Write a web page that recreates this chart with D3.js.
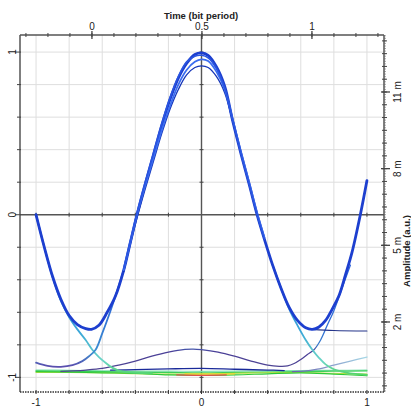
<html>
<head>
<script src="https://d3js.org/d3.v7.min.js"></script>
<style>
  body { margin: 0; background: #fff; }
  text { font-family: "Liberation Sans", Arial, sans-serif; fill: #222; }
  .title { font-weight: bold; font-size: 9.5px; }
  .tick-label { font-size: 10px; }
</style>
</head>
<body>
<div id="chart"></div>
<script>
// ---- data ----
// main bundle, x = normalised position, y = amplitude
var mainX = [-1, -0.95, -0.9, -0.85, -0.8, -0.75, -0.7, -0.665, -0.62, -0.57, -0.52, -0.47, -0.43, -0.39,
             -0.34, -0.29, -0.24, -0.19, -0.14, -0.09, -0.04, 0, 0.04, 0.09, 0.14, 0.19, 0.24, 0.29, 0.336,
             0.38, 0.43, 0.48, 0.53, 0.58, 0.63, 0.67, 0.71, 0.75, 0.79, 0.83, 0.87, 0.91, 0.96, 1.0];
var mainY = [0, -0.2, -0.38, -0.52, -0.62, -0.675, -0.7, -0.705, -0.68, -0.6, -0.5, -0.34, -0.17, 0,
             0.19, 0.37, 0.55, 0.71, 0.84, 0.93, 0.985, 0.995, 0.98, 0.91, 0.79, 0.57, 0.37, 0.18, 0,
             -0.15, -0.31, -0.45, -0.57, -0.65, -0.695, -0.705, -0.69, -0.65, -0.58, -0.5, -0.37, -0.23, 0, 0.21];

// extra traces of the bundle near the peak
var peakX  = [-0.47, -0.43, -0.39, -0.34, -0.29, -0.24, -0.19, -0.14, -0.09, -0.04, 0, 0.04, 0.09, 0.14, 0.19, 0.24, 0.29, 0.336, 0.38];
var peakY2 = [-0.34, -0.17, 0.0, 0.18, 0.35, 0.52, 0.67, 0.8, 0.89, 0.94, 0.955, 0.945, 0.88, 0.77, 0.58, 0.38, 0.19, 0.01, -0.14];
var peakY3 = [-0.35, -0.18, -0.02, 0.16, 0.33, 0.5, 0.65, 0.77, 0.86, 0.905, 0.915, 0.905, 0.85, 0.75, 0.57, 0.37, 0.18, 0.0, -0.15];
var peakY4 = [-0.33, -0.16, 0.01, 0.2, 0.38, 0.56, 0.72, 0.85, 0.94, 0.975, 0.98, 0.965, 0.9, 0.78, 0.58, 0.37, 0.18, 0.0, -0.15];

// falling edges that keep going to the bottom level
var fallLX = [-1, -0.95, -0.9, -0.85, -0.8, -0.75, -0.7, -0.66, -0.62, -0.58, -0.54, -0.5, -0.45, -0.4, -0.3];
var fallLY = [0, -0.2, -0.385, -0.53, -0.63, -0.705, -0.77, -0.83, -0.875, -0.91, -0.94, -0.958, -0.968, -0.972, -0.975];
var fallRX = [0.43, 0.48, 0.53, 0.58, 0.63, 0.67, 0.71, 0.75, 0.8, 0.85, 0.9, 0.95, 1.0];
var fallRY = [-0.31, -0.45, -0.58, -0.68, -0.77, -0.83, -0.88, -0.92, -0.95, -0.965, -0.975, -0.98, -0.985];

// rising edges coming up from the bottom level
var riseLX = [-1, -0.93, -0.85, -0.78, -0.72, -0.68, -0.64, -0.6, -0.56, -0.52, -0.47];
var riseLY = [-0.91, -0.93, -0.935, -0.925, -0.9, -0.87, -0.83, -0.73, -0.62, -0.5, -0.34];
var bumpX  = [-0.85, -0.78, -0.7, -0.6, -0.5, -0.4, -0.3, -0.2, -0.1, -0.05, 0, 0.1, 0.2, 0.3, 0.4, 0.47, 0.52,
              0.56, 0.6, 0.64, 0.68, 0.72, 0.76, 0.8, 0.85, 0.9];
var bumpY  = [-0.963, -0.96, -0.955, -0.945, -0.925, -0.9, -0.87, -0.845, -0.828, -0.826, -0.83, -0.845, -0.87, -0.9, -0.925, -0.932, -0.93,
              -0.915, -0.89, -0.86, -0.83, -0.77, -0.68, -0.59, -0.45, -0.31];

// flat trace after the right minimum and the faint rising one
var flatX = [0.67, 0.8, 1.0];
var flatY = [-0.705, -0.712, -0.715];
var lilacX = [0.55, 0.62, 0.7, 0.8, 0.9, 1.0];
var lilacY = [-0.965, -0.962, -0.95, -0.925, -0.9, -0.875];

// bottom level traces
var lowX  = [-1, -0.8, -0.6, -0.4, -0.2, 0, 0.2, 0.4, 0.6, 0.8, 1];
var lowY1 = [-0.96, -0.962, -0.965, -0.968, -0.97, -0.972, -0.97, -0.968, -0.965, -0.962, -0.96];
var lowY2 = [-0.955, -0.957, -0.96, -0.962, -0.962, -0.963, -0.962, -0.96, -0.958, -0.957, -0.955];
var lowY3 = [-0.97, -0.97, -0.972, -0.978, -0.98, -0.978, -0.975, -0.972, -0.97, -0.975, -0.98];
var lowY4 = [-0.965, -0.968, -0.972, -0.975, -0.985, -0.988, -0.985, -0.978, -0.972, -0.98, -0.99];
var navyX = [-0.55, -0.4, -0.2, 0, 0.2, 0.4, 0.5];
var navyY = [-0.955, -0.953, -0.948, -0.945, -0.95, -0.955, -0.958];
var redX = [-0.15, 0, 0.15];
var redY = [-0.985, -0.988, -0.985];
var yellowX = [-0.1, 0.05, 0.2];
var yellowY = [-0.978, -0.98, -0.978];

// tick values
var bottomTicks = [-1, 0, 1];
var leftTicks = [-1, 0, 1];
var gridSteps = [-1, -0.8, -0.6, -0.4, -0.2, 0.2, 0.4, 0.6, 0.8, 1];
var timeTicks = [0, 0.5, 1];
var ampTicks = [2, 5, 8, 11];

// ---- layout ----
var W = 411, H = 408;
var L = 20, R = 384, T = 35, B = 392;

var x = d3.scaleLinear().domain([-1.097, 1.097]).range([L, 383]);
var y = d3.scaleLinear().domain([1.105, -1.09]).range([T, B]);
var t = d3.scaleLinear().domain([-0.327, 1.323]).range([L, 383]);
var amp = d3.scaleLinear().domain([-0.74, 13.23]).range([B, T]);

var svg = d3.select("#chart").append("svg")
    .attr("width", W)
    .attr("height", H);

var defs = svg.append("defs");
function vGrad(id, stops) {
    var g = defs.append("linearGradient")
        .attr("id", id)
        .attr("gradientUnits", "userSpaceOnUse")
        .attr("x1", 0).attr("x2", 0)
        .attr("y1", y(0)).attr("y2", y(-1));
    stops.forEach(function (s) {
        g.append("stop").attr("offset", s[0]).attr("stop-color", s[1]);
    });
}
vGrad("fallGrad", [[0, "#2a60d6"], [0.72, "#3aa6d8"], [0.9, "#6ad6c4"], [1, "#4ed45a"]]);
vGrad("riseGrad", [[0, "#2a5cdc"], [0.6, "#2f6fd6"], [0.85, "#3c8ed0"], [0.93, "#5a4fae"], [1, "#5a4fae"]]);
vGrad("bumpGrad", [[0, "#2a5cdc"], [0.7, "#2f6fd6"], [0.8, "#3a7ccc"], [0.84, "#4a3f98"], [1, "#50468f"]]);
var lg = defs.append("linearGradient").attr("id", "lilacGrad")
    .attr("gradientUnits", "userSpaceOnUse")
    .attr("x1", x(0.55)).attr("x2", x(1)).attr("y1", 0).attr("y2", 0);
lg.append("stop").attr("offset", 0).attr("stop-color", "#6a60b0");
lg.append("stop").attr("offset", 1).attr("stop-color", "#a6d8e6");

// grid
svg.append("g").selectAll("line").data(gridSteps).enter().append("line")
    .attr("x1", function (d) { return x(d); }).attr("x2", function (d) { return x(d); })
    .attr("y1", T).attr("y2", B)
    .attr("stroke", "#dedede");
svg.append("g").selectAll("line").data(gridSteps).enter().append("line")
    .attr("y1", function (d) { return y(d); }).attr("y2", function (d) { return y(d); })
    .attr("x1", L).attr("x2", R)
    .attr("stroke", "#dedede");

// centre axes with small ticks
svg.append("line").attr("x1", x(0)).attr("x2", x(0)).attr("y1", T).attr("y2", B)
    .attr("stroke", "#555").attr("stroke-width", 1.4);
svg.append("line").attr("x1", L).attr("x2", R).attr("y1", y(0)).attr("y2", y(0))
    .attr("stroke", "#555").attr("stroke-width", 1.4);
svg.append("g").selectAll("line").data(gridSteps).enter().append("line")
    .attr("x1", function (d) { return x(d); }).attr("x2", function (d) { return x(d); })
    .attr("y1", y(0) - 2).attr("y2", y(0) + 2).attr("stroke", "#444");
svg.append("g").selectAll("line").data(gridSteps).enter().append("line")
    .attr("y1", function (d) { return y(d); }).attr("y2", function (d) { return y(d); })
    .attr("x1", x(0) - 2).attr("x2", x(0) + 2).attr("stroke", "#444");

// ---- traces ----
var line = d3.line()
    .x(function (d) { return x(d[0]); })
    .y(function (d) { return y(d[1]); })
    .curve(d3.curveCatmullRom);

function trace(xs, ys, color, w) {
    svg.append("path")
        .datum(d3.zip(xs, ys))
        .attr("fill", "none")
        .attr("stroke", color)
        .attr("stroke-width", w)
        .attr("stroke-linejoin", "round")
        .attr("stroke-linecap", "round")
        .attr("d", line);
}

trace(lowX, lowY2, "#7fe0b0", 1.2);
trace(lowX, lowY1, "#3ccf58", 1.3);
trace(lowX, lowY3, "#b8e040", 1.1);
trace(lowX, lowY4, "#2ec83a", 1.2);
trace(yellowX, yellowY, "#f2d12a", 1.2);
trace(redX, redY, "#e05050", 1.1);
trace(navyX, navyY, "#1a2a9a", 1.3);

trace(lilacX, lilacY, "url(#lilacGrad)", 1.3);
trace(bumpX, bumpY, "url(#bumpGrad)", 1.3);
trace(flatX, flatY, "#25358a", 1.1);
trace(fallLX, fallLY, "url(#fallGrad)", 1.8);
trace(fallRX, fallRY, "url(#fallGrad)", 1.8);
trace(riseLX, riseLY, "url(#riseGrad)", 1.8);

trace(mainX, mainY, "#1d3fcf", 2.8);
trace(peakX, peakY3, "#1535b8", 1.3);
trace(peakX, peakY2, "#3a6cf0", 1.8);
trace(peakX, peakY4, "#2a55e0", 1.6);

// ---- frame and axes ----
svg.append("line").attr("x1", L).attr("x2", L).attr("y1", T).attr("y2", B)
    .attr("stroke", "#555").attr("stroke-width", 1.5);
svg.append("line").attr("x1", L).attr("x2", R).attr("y1", T).attr("y2", T)
    .attr("stroke", "#555").attr("stroke-width", 1.5);
svg.append("line").attr("x1", R).attr("x2", R).attr("y1", T).attr("y2", B)
    .attr("stroke", "#555").attr("stroke-width", 1.5);
svg.append("line").attr("x1", L).attr("x2", R).attr("y1", B).attr("y2", B)
    .attr("stroke", "#333").attr("stroke-width", 1.5).attr("stroke-dasharray", "1.5,1");

// left axis ticks
svg.append("g").selectAll("line").data(gridSteps.concat([0])).enter().append("line")
    .attr("y1", function (d) { return y(d); }).attr("y2", function (d) { return y(d); })
    .attr("x1", function (d) { return Math.abs(d) === 1 || d === 0 ? L - 5 : L - 3; })
    .attr("x2", L + 1).attr("stroke", "#444");
svg.append("g").selectAll("text").data(leftTicks).enter().append("text")
    .attr("class", "tick-label")
    .attr("text-anchor", "middle")
    .attr("transform", function (d) { return "translate(12," + y(d) + ") rotate(-90)"; })
    .attr("dy", "0.35em")
    .text(function (d) { return d; });

// bottom axis
svg.append("g").selectAll("line").data(gridSteps.concat([0])).enter().append("line")
    .attr("x1", function (d) { return x(d); }).attr("x2", function (d) { return x(d); })
    .attr("y1", B - 2).attr("y2", B + 2).attr("stroke", "#333");
svg.append("g").selectAll("text").data(bottomTicks).enter().append("text")
    .attr("class", "tick-label")
    .attr("text-anchor", "middle")
    .attr("x", function (d) { return x(d); })
    .attr("y", 406)
    .text(function (d) { return d; });

// top axis: time
var timeMinor = d3.range(-3, 14).map(function (i) { return i / 10; });
svg.append("g").selectAll("line").data(timeMinor).enter().append("line")
    .attr("x1", function (d) { return t(d); }).attr("x2", function (d) { return t(d); })
    .attr("y1", T - 2).attr("y2", T + 2).attr("stroke", "#444");
svg.append("g").selectAll("line").data(timeTicks).enter().append("line")
    .attr("x1", function (d) { return t(d); }).attr("x2", function (d) { return t(d); })
    .attr("y1", T - 4).attr("y2", T + 4).attr("stroke", "#444").attr("stroke-width", 1.3);
svg.append("g").selectAll("text").data(timeTicks).enter().append("text")
    .attr("class", "tick-label")
    .attr("text-anchor", "middle")
    .attr("x", function (d) { return t(d); })
    .attr("y", 30)
    .text(function (d) { return d; });
svg.append("text").attr("class", "title")
    .attr("text-anchor", "middle")
    .attr("x", 201).attr("y", 19)
    .text("Time (bit period)");

// right axis: amplitude
var ampFine = d3.range(-7, 133).map(function (i) { return i / 10; });
var ampMinor = d3.range(-1, 27).map(function (i) { return i / 2; });
svg.append("g").selectAll("line").data(ampFine).enter().append("line")
    .attr("y1", function (d) { return amp(d); }).attr("y2", function (d) { return amp(d); })
    .attr("x1", R).attr("x2", R + 2).attr("stroke", "#666").attr("stroke-width", 0.6);
svg.append("g").selectAll("line").data(ampMinor).enter().append("line")
    .attr("y1", function (d) { return amp(d); }).attr("y2", function (d) { return amp(d); })
    .attr("x1", R - 2).attr("x2", R + 3).attr("stroke", "#444");
svg.append("g").selectAll("line").data(ampTicks).enter().append("line")
    .attr("y1", function (d) { return amp(d); }).attr("y2", function (d) { return amp(d); })
    .attr("x1", R - 3).attr("x2", R + 6).attr("stroke", "#444").attr("stroke-width", 1.3);
svg.append("g").selectAll("text").data(ampTicks).enter().append("text")
    .attr("class", "tick-label")
    .attr("text-anchor", "middle")
    .attr("transform", function (d) { return "translate(397," + amp(d) + ") rotate(-90)"; })
    .attr("dy", "0.35em")
    .text(function (d) { return d + " m"; });
svg.append("text").attr("class", "title")
    .attr("text-anchor", "middle")
    .attr("transform", "translate(407,251) rotate(-90)")
    .attr("dy", "0.35em")
    .text("Amplitude (a.u.)");
</script>
</body>
</html>
